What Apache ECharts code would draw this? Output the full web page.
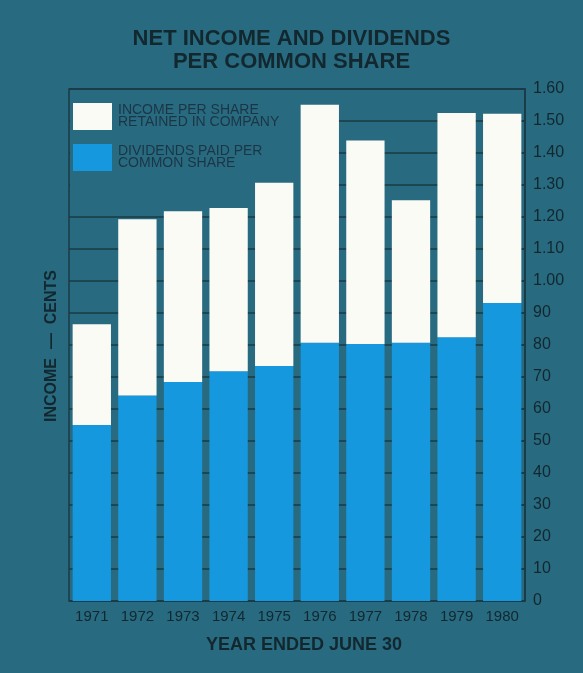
<!DOCTYPE html>
<html>
<head>
<meta charset="utf-8">
<script src="https://cdn.jsdelivr.net/npm/echarts@6/dist/echarts.min.js"></script>
<style>
html,body{margin:0;padding:0;background:#286b81;}
#chart{width:583px;height:673px;}
</style>
</head>
<body>
<div id="chart"></div>
<script>
// Data (cents per share)
var years = ['1971','1972','1973','1974','1975','1976','1977','1978','1979','1980'];
var dividends = [55.0, 64.2, 68.4, 71.8, 73.4, 80.7, 80.3, 80.7, 82.4, 93.1];
var retained  = [31.5, 55.1, 53.4, 51.0, 57.3, 74.4, 63.6, 44.5, 70.1, 59.2];
var yTickLabels = ['0','10','20','30','40','50','60','70','80','90',
                   '1.00','1.10','1.20','1.30','1.40','1.50','1.60'];
var seriesNames = ['INCOME PER SHARE\nRETAINED IN COMPANY', 'DIVIDENDS PAID PER\nCOMMON SHARE'];
var titleText = 'NET INCOME AND DIVIDENDS\nPER COMMON SHARE';
var xAxisTitle = 'YEAR ENDED JUNE 30';
var yAxisTitle = 'INCOME  —  CENTS';

var bg = '#286b81';
var dark = '#12272e';
var lineCol = '#1a3a45';

var chart = echarts.init(document.getElementById('chart'), null, {renderer: 'canvas'});
chart.setOption({
  backgroundColor: bg,
  animation: false,
  textStyle: {fontFamily: 'Liberation Sans, Arial, sans-serif'},
  title: {
    text: titleText,
    left: 'center',
    top: 27,
    padding: 0,
    textStyle: {fontSize: 22, fontWeight: 'bold', color: dark, lineHeight: 23, fontFamily: 'Liberation Sans, Arial, sans-serif'}
  },
  legend: {
    data: [seriesNames[0], seriesNames[1]],
    orient: 'vertical',
    left: 73,
    top: 103,
    padding: 0,
    itemWidth: 39,
    itemHeight: 27,
    itemGap: 14,
    icon: 'rect',
    textStyle: {fontSize: 14, color: '#1c3544', lineHeight: 12, padding: [2,0,0,1]}
  },
  grid: {
    left: 69, right: 58, top: 89, bottom: 72,
    show: true, borderColor: lineCol, borderWidth: 1.5, backgroundColor: 'transparent'
  },
  graphic: [
    {type: 'rect', z: 1, shape: {x: 70, y: 90, width: 268, height: 106}, style: {fill: bg}},
    {type: 'text', z: 5, left: 206, top: 636,
     style: {text: xAxisTitle, fontSize: 18, fontWeight: 'bold', fill: dark, fontFamily: 'Liberation Sans, Arial, sans-serif'}},
    {type: 'text', z: 5, x: 52, y: 346, rotation: Math.PI/2,
     style: {text: yAxisTitle, fontSize: 16, fontWeight: 'bold', fill: dark, align: 'center', verticalAlign: 'middle', fontFamily: 'Liberation Sans, Arial, sans-serif'}}
  ],
  xAxis: {
    type: 'category',
    data: years,
    axisLine: {show: false},
    axisTick: {show: false},
    axisLabel: {fontSize: 15, color: dark, margin: 8}
  },
  yAxis: {
    type: 'value',
    position: 'right',
    min: 0, max: 160, interval: 10,
    axisLine: {show: true, lineStyle: {color: lineCol, width: 1.5}},
    axisTick: {show: true, inside: true, length: 6, lineStyle: {color: lineCol, width: 1.5}},
    splitLine: {show: true, lineStyle: {color: lineCol, width: 1.5}},
    axisLabel: {
      fontSize: 16, color: dark, margin: 8,
      formatter: function (v) { return yTickLabels[Math.round(v / 10)]; }
    }
  },
  series: [
    {name: seriesNames[1], type: 'bar', stack: 'a', data: dividends, barWidth: '84%',
     itemStyle: {color: '#1698df'}},
    {name: seriesNames[0], type: 'bar', stack: 'a', data: retained, barWidth: '84%',
     itemStyle: {color: '#fbfbf6'}}
  ]
});
</script>
</body>
</html>
